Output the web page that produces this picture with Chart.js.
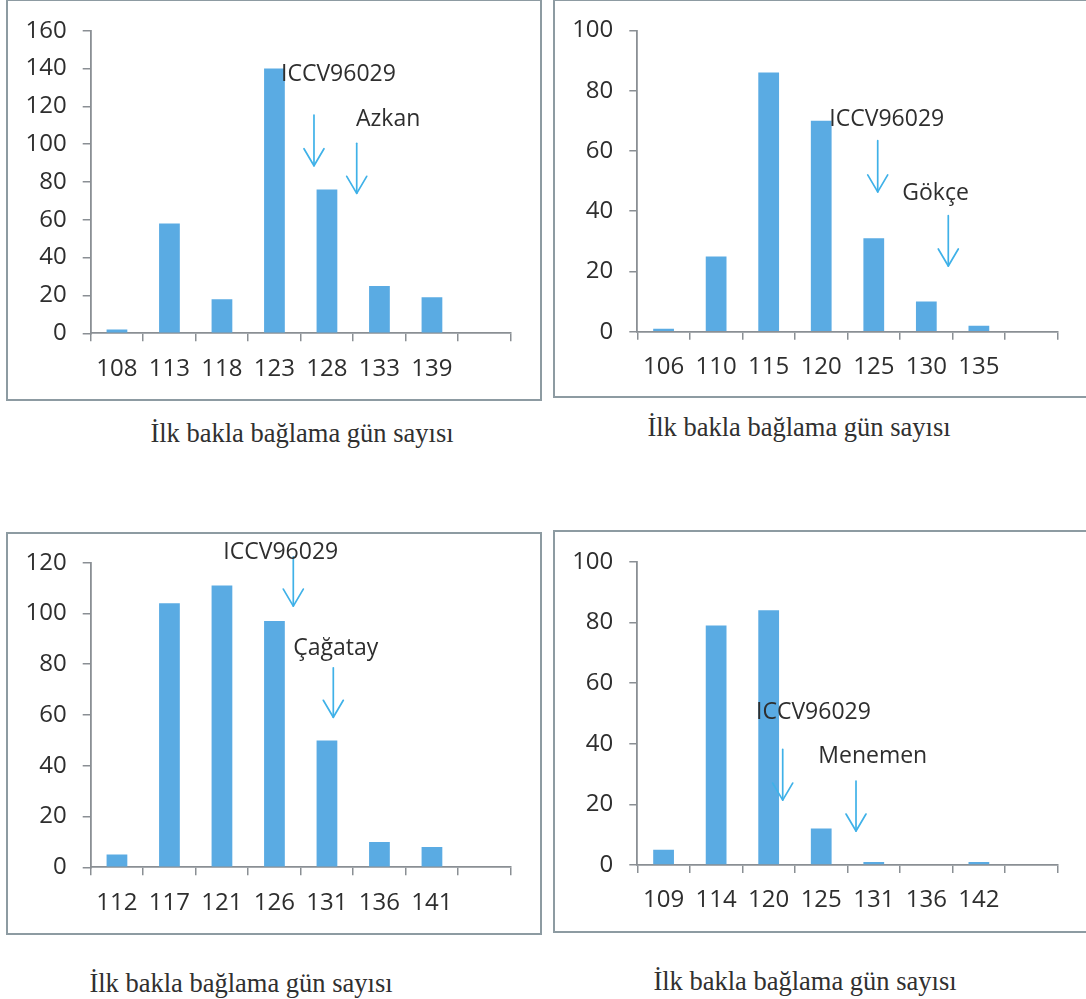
<!DOCTYPE html>
<html>
<head>
<meta charset="utf-8">
<script src="https://cdn.jsdelivr.net/npm/chart.js@4.4.1/dist/chart.umd.min.js"></script>
<style>
  html, body { margin: 0; padding: 0; background: #ffffff; }
  body { width: 1086px; height: 999px; position: relative; overflow: hidden; }
  .frame { position: absolute; border: 2px solid #8d9ba2; box-sizing: border-box; }
  .plot { position: absolute; }
  .caption {
    position: absolute; white-space: nowrap; transform: translateX(-50%);
    font-family: "Liberation Serif", "Times New Roman", serif;
    font-size: 26.5px; line-height: 26.5px; color: #303030;
  }
</style>
</head>
<body>

<div class="frame" style="left:6px;top:-1px;width:536px;height:402px"></div>
<div class="frame" style="left:553px;top:-1px;width:540px;height:399px"></div>
<div class="frame" style="left:6px;top:532px;width:536px;height:403px"></div>
<div class="frame" style="left:553px;top:530px;width:540px;height:403px"></div>

<canvas id="azkan" class="plot" style="left:0px;top:0px"></canvas>
<canvas id="gokce" class="plot" style="left:547px;top:0px"></canvas>
<canvas id="cagatay" class="plot" style="left:0px;top:520px"></canvas>
<canvas id="menemen" class="plot" style="left:547px;top:520px"></canvas>

<div class="caption" style="left:302px;top:420px">İlk bakla bağlama gün sayısı</div>
<div class="caption" style="left:799px;top:414px">İlk bakla bağlama gün sayısı</div>
<div class="caption" style="left:241px;top:970px">İlk bakla bağlama gün sayısı</div>
<div class="caption" style="left:805px;top:968px">İlk bakla bağlama gün sayısı</div>

<script>
// Days to first pod set (category labels) and number of plants per class
const azkanDays   = ['108', '113', '118', '123', '128', '133', '139', ''];
const azkanCounts = [2, 58, 18, 140, 76, 25, 19, null];

const gokceDays   = ['106', '110', '115', '120', '125', '130', '135', ''];
const gokceCounts = [1, 25, 86, 70, 31, 10, 2, null];

const cagatayDays   = ['112', '117', '121', '126', '131', '136', '141', ''];
const cagatayCounts = [5, 104, 111, 97, 50, 10, 8, null];

const menemenDays   = ['109', '114', '120', '125', '131', '136', '142', ''];
const menemenCounts = [5, 79, 84, 12, 1, 0, 1, null];

// Value axis ranges
const azkanAxisMax = 160;
const gokceAxisMax = 100;
const cagatayAxisMax = 120;
const menemenAxisMax = 100;
const axisStep = 20;

// Parent and check line marks: category position (index) and value levels
const azkanMarks = {
  texts: [{ text: 'ICCV96029', at: 3.125, level: 137.5 }, { text: 'Azkan', at: 4.553, level: 113.9 }],
  arrows: [{ at: 3.753, from: 115.4, to: 88.6 }, { at: 4.567, from: 100.5, to: 74 }]
};
const gokceMarks = {
  texts: [{ text: 'ICCV96029', at: 3.154, level: 70.9 }, { text: 'Gökçe', at: 4.543, level: 46.5 }],
  arrows: [{ at: 4.075, from: 63.4, to: 46.4 }, { at: 5.418, from: 38.5, to: 21.8 }]
};
const cagatayMarks = {
  texts: [{ text: 'ICCV96029', at: 2.026, level: 124.7 }, { text: 'Çağatay', at: 3.359, level: 86.9 }],
  arrows: [{ at: 3.359, from: 122.3, to: 102.9 }, { at: 4.121, from: 78.6, to: 59.1 }]
};
const menemenMarks = {
  texts: [{ text: 'ICCV96029', at: 1.759, level: 50.8 }, { text: 'Menemen', at: 2.944, level: 36.3 }],
  arrows: [{ at: 2.267, from: 38.1, to: 21.4 }, { at: 3.662, from: 27.7, to: 11.2 }]
};

const BAR_COLOR = '#5aabe3';
const ARROW_COLOR = '#3fb1e8';
const AXIS_COLOR = '#8a8f94';
const TEXT_COLOR = '#2e2e2e';
const TICK_FONT = { family: '"Open Sans", "Noto Sans", sans-serif', size: 24 };
const MARK_FONT_SIZE = 23;

// Draws the labelled arrows that point at the parent lines
const calloutPlugin = {
  id: 'callouts',
  afterDatasetsDraw(chart, args, opts) {
    const { ctx } = chart;
    const x = chart.scales.x, y = chart.scales.y;
    ctx.save();
    ctx.strokeStyle = ARROW_COLOR;
    ctx.lineWidth = 1.7;
    ctx.lineCap = 'round';
    ctx.lineJoin = 'round';
    (opts.arrows || []).forEach(a => {
      const cx = x.getPixelForValue(a.at);
      const y0 = y.getPixelForValue(a.from);
      const y1 = y.getPixelForValue(a.to);
      ctx.beginPath();
      ctx.moveTo(cx, y0);
      ctx.lineTo(cx, y1);
      ctx.stroke();
      ctx.beginPath();
      ctx.moveTo(cx - 10, y1 - 17);
      ctx.lineTo(cx, y1);
      ctx.lineTo(cx + 10, y1 - 17);
      ctx.stroke();
    });
    ctx.fillStyle = TEXT_COLOR;
    ctx.font = MARK_FONT_SIZE + 'px "Open Sans", "Noto Sans", sans-serif';
    ctx.textAlign = 'left';
    ctx.textBaseline = 'alphabetic';
    (opts.texts || []).forEach(t => {
      const tx = x.getPixelForValue(t.at);
      const ty = y.getPixelForValue(t.level) + 0.357 * MARK_FONT_SIZE;
      ctx.fillText(t.text, tx, ty);
    });
    ctx.restore();
  }
};

function drawPanel(id, days, counts, axisMax, marks, box) {
  const canvas = document.getElementById(id);
  canvas.width = box.w;
  canvas.height = box.h;
  canvas.style.width = box.w + 'px';
  canvas.style.height = box.h + 'px';
  return new Chart(canvas, {
    type: 'bar',
    data: {
      labels: days,
      datasets: [{
        data: counts,
        backgroundColor: BAR_COLOR,
        borderWidth: 0,
        barPercentage: 0.395,
        categoryPercentage: 1
      }]
    },
    options: {
      responsive: false,
      animation: false,
      devicePixelRatio: 1,
      layout: { padding: { top: box.top, right: box.right, left: 0, bottom: 0 } },
      plugins: {
        legend: { display: false },
        tooltip: { enabled: false },
        callouts: marks
      },
      scales: {
        x: {
          grid: { offset: true, drawOnChartArea: false, drawTicks: true, tickLength: 8, color: AXIS_COLOR, lineWidth: 1.5 },
          border: { display: true, color: AXIS_COLOR, width: 1.8 },
          ticks: { color: TEXT_COLOR, font: TICK_FONT, padding: 13, maxRotation: 0, autoSkip: false },
          afterFit: s => { s.height = box.xh; }
        },
        y: {
          min: 0,
          max: axisMax,
          grid: { drawOnChartArea: false, drawTicks: true, tickLength: 8, color: AXIS_COLOR, lineWidth: 1.5 },
          border: { display: true, color: AXIS_COLOR, width: 1.8 },
          ticks: { stepSize: axisStep, color: TEXT_COLOR, font: TICK_FONT, padding: 16 },
          afterFit: s => { s.width = box.yw; }
        }
      }
    },
    plugins: [calloutPlugin]
  });
}

drawPanel('azkan',   azkanDays,   azkanCounts,   azkanAxisMax,   azkanMarks,   { w: 540, h: 400, top: 30.7, right: 29.3, yw: 90.7, xh: 66.7 });
drawPanel('gokce',   gokceDays,   gokceCounts,   gokceAxisMax,   gokceMarks,   { w: 539, h: 400, top: 28.3, right: 28.3, yw: 90.3, xh: 68.3 });
drawPanel('cagatay', cagatayDays, cagatayCounts, cagatayAxisMax, cagatayMarks, { w: 540, h: 420, top: 42.7, right: 29.3, yw: 90.7, xh: 72.7 });
drawPanel('menemen', menemenDays, menemenCounts, menemenAxisMax, menemenMarks, { w: 539, h: 420, top: 41.7, right: 28.3, yw: 90.3, xh: 75 });
</script>
</body>
</html>
